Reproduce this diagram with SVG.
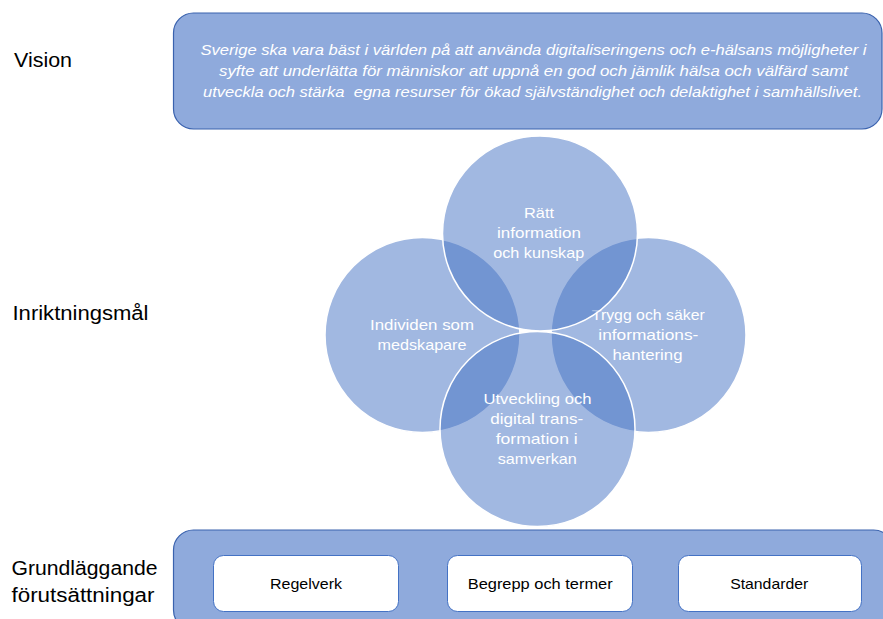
<svg xmlns="http://www.w3.org/2000/svg" width="883" height="619" viewBox="0 0 883 619">
  <style>
    .label { font-family: "Liberation Sans", Arial, sans-serif; font-size: 20px; fill: #000; }
    .band { fill: #8FAADC; stroke: #3A62AE; stroke-width: 1.2; }
    .vision-text { font-family: "Liberation Sans", Arial, sans-serif; font-size: 15px; font-style: italic; fill: #fff; text-anchor: middle; }
    .goal { fill: #4472C4; fill-opacity: 0.5; stroke: #fff; stroke-width: 1.5; }
    .goal-text { font-family: "Liberation Sans", Arial, sans-serif; font-size: 15px; fill: #fff; text-anchor: middle; }
    .base-box { fill: #fff; stroke: #4472C4; stroke-width: 1; }
    .base-text { font-family: "Liberation Sans", Arial, sans-serif; font-size: 15px; fill: #000; text-anchor: middle; }
  </style>

  <rect width="883" height="619" fill="#fff"/>

  <!-- Row labels -->
  <g id="row-labels">
    <text class="label" x="14" y="67" textLength="58" lengthAdjust="spacingAndGlyphs">Vision</text>
    <text class="label" x="12.5" y="320" textLength="136" lengthAdjust="spacingAndGlyphs">Inriktningsmål</text>
    <text class="label" x="11.5" y="575" textLength="146" lengthAdjust="spacingAndGlyphs">Grundläggande</text>
    <text class="label" x="11.5" y="601.5" textLength="143" lengthAdjust="spacingAndGlyphs">förutsättningar</text>
  </g>

  <!-- Vision statement -->
  <g id="vision">
    <rect class="band" x="173.5" y="13" width="708.5" height="116" rx="20" ry="20"/>
    <text class="vision-text" x="533.5" y="55" textLength="666" lengthAdjust="spacingAndGlyphs">Sverige ska vara bäst i världen på att använda digitaliseringens och e-hälsans möjligheter i</text>
    <text class="vision-text" x="533.5" y="76" textLength="629" lengthAdjust="spacingAndGlyphs">syfte att underlätta för människor att uppnå en god och jämlik hälsa och välfärd samt</text>
    <text class="vision-text" x="532.5" y="97" textLength="659" lengthAdjust="spacingAndGlyphs">utveckla och stärka&#160; egna resurser för ökad självständighet och delaktighet i samhällslivet.</text>
  </g>

  <!-- Goal circles: drawn left, right, top, bottom -->
  <g id="goal-individ">
    <circle class="goal" cx="422.5" cy="335" r="97.5"/>
    <text class="goal-text" x="422" y="329.5" textLength="104" lengthAdjust="spacingAndGlyphs">Individen som</text>
    <text class="goal-text" x="422" y="349.5" textLength="89" lengthAdjust="spacingAndGlyphs">medskapare</text>
  </g>

  <g id="goal-informationshantering">
    <circle class="goal" cx="648.5" cy="335" r="97.5"/>
    <text class="goal-text" x="648.3" y="320" textLength="113" lengthAdjust="spacingAndGlyphs">Trygg och säker</text>
    <text class="goal-text" x="648.3" y="340" textLength="100" lengthAdjust="spacingAndGlyphs">informations-</text>
    <text class="goal-text" x="647.5" y="360" textLength="70" lengthAdjust="spacingAndGlyphs">hantering</text>
  </g>

  <g id="goal-information">
    <circle class="goal" cx="540" cy="233.5" r="97.5"/>
    <text class="goal-text" x="539" y="218.3" textLength="30" lengthAdjust="spacingAndGlyphs">Rätt</text>
    <text class="goal-text" x="539" y="238.3" textLength="84" lengthAdjust="spacingAndGlyphs">information</text>
    <text class="goal-text" x="538.7" y="258" textLength="91" lengthAdjust="spacingAndGlyphs">och kunskap</text>
  </g>

  <g id="goal-utveckling">
    <circle class="goal" cx="537.5" cy="429" r="97.5"/>
    <text class="goal-text" x="537.5" y="404" textLength="108" lengthAdjust="spacingAndGlyphs">Utveckling och</text>
    <text class="goal-text" x="536.7" y="424" textLength="93" lengthAdjust="spacingAndGlyphs">digital trans-</text>
    <text class="goal-text" x="536.7" y="443.5" textLength="82" lengthAdjust="spacingAndGlyphs">formation i</text>
    <text class="goal-text" x="537.2" y="463.5" textLength="79" lengthAdjust="spacingAndGlyphs">samverkan</text>
  </g>

  <!-- Foundations band -->
  <g id="foundations">
    <rect class="band" x="173.5" y="530" width="720" height="100" rx="20" ry="20"/>
  </g>

  <g id="base-regelverk">
    <rect class="base-box" x="213.5" y="555.5" width="185" height="56" rx="10" ry="10"/>
    <text class="base-text" x="306" y="588.5" textLength="72" lengthAdjust="spacingAndGlyphs">Regelverk</text>
  </g>

  <g id="base-begrepp">
    <rect class="base-box" x="447.5" y="555.5" width="185" height="56" rx="10" ry="10"/>
    <text class="base-text" x="540.2" y="589" textLength="145" lengthAdjust="spacingAndGlyphs">Begrepp och termer</text>
  </g>

  <g id="base-standarder">
    <rect class="base-box" x="678.5" y="555.5" width="183" height="56" rx="10" ry="10"/>
    <text class="base-text" x="769.2" y="589" textLength="78" lengthAdjust="spacingAndGlyphs">Standarder</text>
  </g>
</svg>
